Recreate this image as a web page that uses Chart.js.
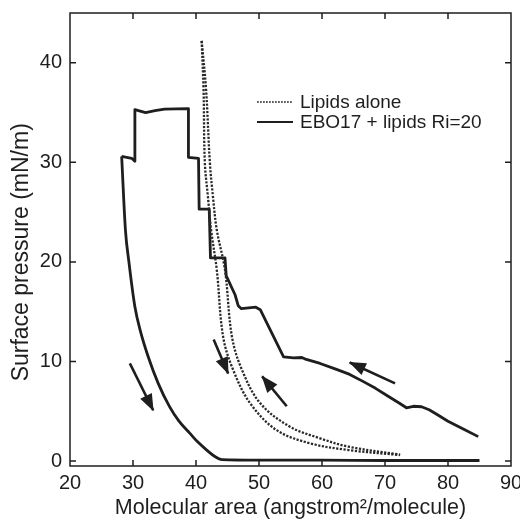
<!DOCTYPE html>
<html>
<head>
<meta charset="utf-8">
<script src="https://cdn.jsdelivr.net/npm/chart.js@4.4.1/dist/chart.umd.min.js"></script>
<style>
  html, body { margin: 0; padding: 0; background: #fff; }
  #wrap { width: 520px; height: 521px; }
</style>
</head>
<body>
<div id="wrap"><canvas id="chart"></canvas></div>
<script>
// Axis ticks
const xTicks = [20, 30, 40, 50, 60, 70, 80, 90];
const yTicks = [0, 10, 20, 30, 40];

// Lipids alone - two dotted isotherms (left and right branch)
const lipidsAreaA  = [40.9, 41.2, 41.4, 41.9, 42.4, 43.3, 44.3, 45.9, 48.6, 52.8, 58.1, 64.2, 72.4];
const lipidsPressA = [42.2, 37.3, 30.0, 26.5, 23.2, 19.2, 12.5, 9.15, 5.8, 3.1, 1.78, 1.1, 0.6];
const lipidsAreaB  = [40.9, 41.6, 42.2, 42.7, 43.3, 44.6, 45.7, 47.3, 50.2, 54.9, 59.7, 64.2, 72.4];
const lipidsPressB = [42.2, 37.3, 30.0, 26.5, 23.2, 19.2, 12.5, 9.15, 5.8, 3.45, 2.28, 1.44, 0.65];

// EBO17 + lipids Ri=20 - compression (from the right, stepwise)
const eboCompArea = [
  84.8, 82.5, 80.0, 78.2, 77.0, 75.8, 74.5, 73.4, 72.3, 70.5, 68.5, 66.5, 64.4, 62.3, 59.7, 57.5, 56.8, 55.5, 53.9,
  50.2, 49.5, 47.2, 46.7, 46.2, 45.1, 44.8, 44.6, 42.3, 42.1, 40.5, 40.4, 38.8, 38.8, 35.0, 33.5, 32.0, 30.3, 30.3, 29.8, 28.2
];
const eboCompPress = [
  2.45, 3.2, 4.0, 4.7, 5.15, 5.45, 5.5, 5.35, 5.8, 6.5, 7.3, 8.0, 8.7, 9.2, 9.8, 10.2, 10.4, 10.35, 10.45,
  15.2, 15.45, 15.3, 15.6, 16.7, 18.2, 18.6, 20.4, 20.4, 25.3, 25.3, 30.4, 30.5, 35.4, 35.35, 35.2, 35.0, 35.3, 30.1, 30.4, 30.6
];
// EBO17 + lipids Ri=20 - expansion (smooth branch)
const eboExpArea  = [28.2, 28.8, 29.35, 30.3, 31.2, 32.4, 34.0, 35.8, 37.3, 39.0, 40.3, 41.7, 43.0, 44.1, 50.0, 60.0, 70.0, 85.0];
const eboExpPress = [30.6, 23.2, 20.0, 15.5, 13.0, 10.5, 7.8, 5.46, 4.0, 2.8, 1.9, 1.1, 0.45, 0.15, 0.1, 0.1, 0.05, 0.05];

// Direction arrows (tail -> head)
const arrowTailArea  = [29.5, 42.8, 54.4, 71.6];
const arrowTailPress = [9.8, 12.2, 5.5, 7.8];
const arrowHeadArea  = [33.2, 45.1, 50.5, 64.4];
const arrowHeadPress = [5.1, 8.8, 8.5, 9.9];

const INK = '#1e1e1e';
const FONT = 'Liberation Sans, Arial, Helvetica, sans-serif';

function toPoints(xs, ys) {
  return xs.map((x, i) => ({ x: x, y: ys[i] }));
}

const dotted = { borderColor: '#2a2a2a', borderWidth: 2.3, borderDash: [2.2, 1.5], tension: 0.35, pointRadius: 0 };
const solid = { borderColor: INK, borderWidth: 2.8, borderJoinStyle: 'round', pointRadius: 0 };

const datasets = [
  Object.assign({ label: 'Lipids alone', data: toPoints(lipidsAreaA, lipidsPressA), legendRow: 0 }, dotted),
  Object.assign({ label: 'Lipids alone', data: toPoints(lipidsAreaB, lipidsPressB) }, dotted),
  Object.assign({ label: 'EBO17 + lipids Ri=20', data: toPoints(eboCompArea, eboCompPress), tension: 0, legendRow: 1 }, solid),
  Object.assign({ label: 'EBO17 + lipids Ri=20', data: toPoints(eboExpArea, eboExpPress), cubicInterpolationMode: 'monotone' }, solid)
];

arrowTailArea.forEach((x, i) => {
  datasets.push({
    label: 'arrow',
    data: [{ x: x, y: arrowTailPress[i] }, { x: arrowHeadArea[i], y: arrowHeadPress[i] }],
    borderColor: INK, borderWidth: 2.6, pointRadius: 0, arrow: true
  });
});

// Arrow heads at the end of each arrow dataset
const arrowHeads = {
  id: 'arrowHeads',
  afterDatasetsDraw(chart) {
    const ctx = chart.ctx;
    chart.data.datasets.forEach((ds, i) => {
      if (!ds.arrow) return;
      const pts = chart.getDatasetMeta(i).data;
      const a = pts[0], b = pts[1];
      const ang = Math.atan2(b.y - a.y, b.x - a.x);
      const len = 16, half = 6.5;
      ctx.save();
      ctx.translate(b.x, b.y);
      ctx.rotate(ang);
      ctx.fillStyle = INK;
      ctx.beginPath();
      ctx.moveTo(1, 0);
      ctx.lineTo(-len, -half);
      ctx.lineTo(-len, half);
      ctx.closePath();
      ctx.fill();
      ctx.restore();
    });
  }
};

// Box frame with inward ticks on all four sides
const frameTicks = {
  id: 'frameTicks',
  afterDraw(chart) {
    const { ctx, chartArea: ca, scales } = chart;
    const t = 6;
    ctx.save();
    ctx.strokeStyle = INK;
    ctx.lineWidth = 1.5;
    ctx.strokeRect(ca.left, ca.top, ca.right - ca.left, ca.bottom - ca.top);
    ctx.beginPath();
    scales.x.ticks.forEach(tk => {
      const px = scales.x.getPixelForValue(tk.value);
      if (px <= ca.left + 1 || px >= ca.right - 1) return;
      ctx.moveTo(px, ca.bottom); ctx.lineTo(px, ca.bottom - t);
      ctx.moveTo(px, ca.top); ctx.lineTo(px, ca.top + t);
    });
    scales.y.ticks.forEach(tk => {
      const py = scales.y.getPixelForValue(tk.value);
      ctx.moveTo(ca.left, py); ctx.lineTo(ca.left + t, py);
      ctx.moveTo(ca.right, py); ctx.lineTo(ca.right - t, py);
    });
    ctx.stroke();
    ctx.restore();
  }
};

// Legend drawn inside the plot
const insideLegend = {
  id: 'insideLegend',
  afterDraw(chart) {
    const ctx = chart.ctx;
    const x0 = 257, x1 = 293, tx = 300, y0 = 102, dy = 20;
    ctx.save();
    ctx.font = '19px ' + FONT;
    ctx.textBaseline = 'middle';
    ctx.fillStyle = INK;
    chart.data.datasets.forEach(ds => {
      if (ds.legendRow === undefined) return;
      const y = y0 + ds.legendRow * dy;
      ctx.strokeStyle = ds.borderColor;
      ctx.lineWidth = ds.borderDash ? 1.6 : 2;
      ctx.setLineDash(ds.borderDash ? [1.8, 1.2] : []);
      ctx.beginPath();
      ctx.moveTo(x0, y); ctx.lineTo(x1, y);
      ctx.stroke();
      ctx.setLineDash([]);
      ctx.fillText(ds.label, tx, y + 1);
    });
    ctx.restore();
  }
};

new Chart(document.getElementById('chart'), {
  type: 'line',
  data: { datasets: datasets },
  options: {
    responsive: true,
    maintainAspectRatio: false,
    animation: false,
    layout: { padding: { top: 13, right: 9, left: 0, bottom: 0 } },
    plugins: { legend: { display: false }, tooltip: { enabled: false } },
    scales: {
      x: {
        type: 'linear', min: 20, max: 90,
        afterBuildTicks: s => { s.ticks = xTicks.map(v => ({ value: v })); },
        afterFit: s => { s.height = 55; s.paddingLeft = 0; s.paddingRight = 0; },
        grid: { display: false, drawTicks: false },
        border: { display: false },
        ticks: { color: INK, font: { family: FONT, size: 20 }, padding: 5, maxRotation: 0 },
        title: {
          display: true, text: 'Molecular area (angstrom\u00b2/molecule)',
          color: INK, font: { family: FONT, size: 21.5 }, padding: { top: 0, bottom: 0 }
        }
      },
      y: {
        type: 'linear', min: -0.5, max: 45,
        afterBuildTicks: s => { s.ticks = yTicks.map(v => ({ value: v })); },
        afterFit: s => { s.width = 70; s.paddingTop = 0; s.paddingBottom = 0; },
        grid: { display: false, drawTicks: false },
        border: { display: false },
        ticks: { color: INK, font: { family: FONT, size: 20 }, padding: 8 },
        title: {
          display: true, text: 'Surface pressure (mN/m)    ',
          color: INK, font: { family: FONT, size: 23 }, padding: { top: 8, bottom: 0 }
        }
      }
    }
  },
  plugins: [arrowHeads, frameTicks, insideLegend]
});
</script>
</body>
</html>
